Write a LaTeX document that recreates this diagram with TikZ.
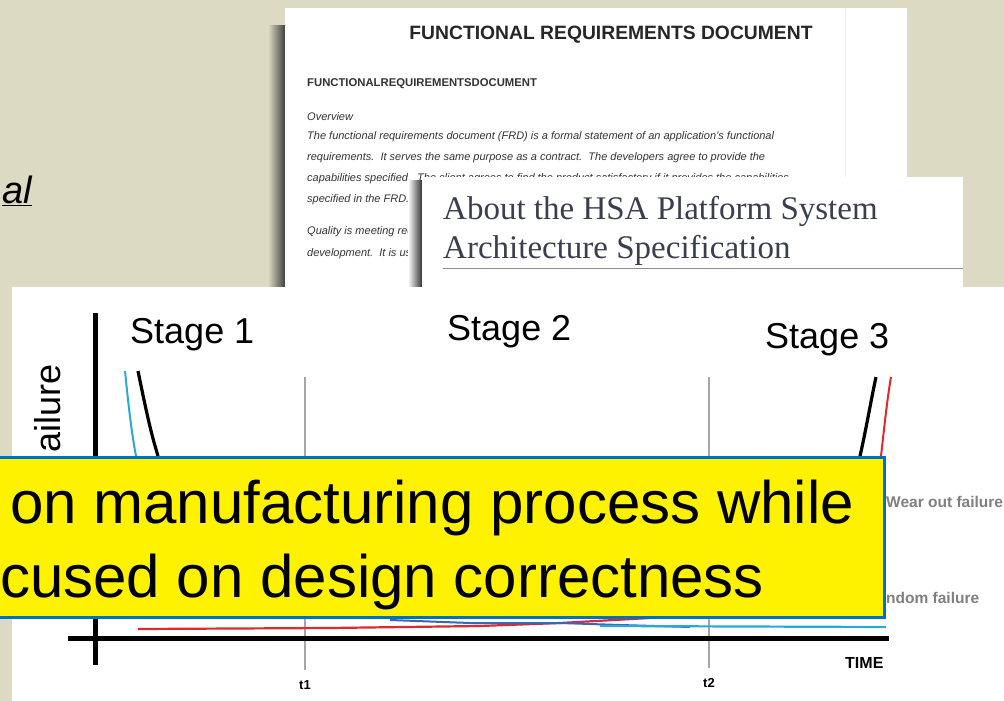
\documentclass[tikz,border=0pt]{standalone}
\usepackage{fontspec}
\setmainfont{Liberation Sans}
\newfontfamily\docserif{Liberation Serif}
\usepackage{tikz}
\usetikzlibrary{positioning}
\definecolor{slidebg}{HTML}{DCDAC3}
\definecolor{hsatext}{HTML}{3A3F4E}
\definecolor{calloutc}{HTML}{0070C0}
\definecolor{earlyc}{HTML}{2AA8D6}
\definecolor{wearc}{HTML}{E0282E}
\definecolor{randc}{HTML}{3F63B8}
\tikzset{
  txt/.style={inner sep=0pt,anchor=base west},
  doctext/.style={txt,font=\fontsize{11}{13}\selectfont\itshape,text=black!80},
  stagelbl/.style={txt,font=\fontsize{36}{40}\selectfont},
  notetext/.style={txt,font=\fontsize{60}{70}\selectfont},
  graylbl/.style={txt,font=\fontsize{15.5}{17}\selectfont\bfseries,text=black!50},
  ticklbl/.style={font=\fontsize{13}{15}\selectfont\bfseries,inner sep=0pt},
  axis/.style={line width=5pt,black},
  tline/.style={line width=1.3pt,black!35},
  callout/.style={draw=calloutc,line width=3pt,fill=yellow,inner sep=0pt}
}
\begin{document}
\begin{tikzpicture}[x=1pt,y=-1pt]
\useasboundingbox (0,0) rectangle (1004,701);
\fill[slidebg] (0,0) rectangle (1004,701);
\node[txt,anchor=base east,font=\fontsize{38}{40}\selectfont\itshape] (word) at (32,203) {\underline{al}};
\shade[left color=slidebg,right color=black!75] (268,26) rectangle (285,290);
\fill[white] (285,8) rectangle (907,290);
\draw[black!6,line width=1pt] (845,8) -- (845,177);
\node[txt,anchor=base,font=\fontsize{19.3}{22}\selectfont\bfseries,text=black!85] (frdtitle) at (611,40) {FUNCTIONAL REQUIREMENTS DOCUMENT};
\node[txt,font=\fontsize{11.3}{13}\selectfont\bfseries,text=black!80] (frdhead) at (307,87) {FUNCTIONALREQUIREMENTSDOCUMENT};
\node[doctext] (ov) at (307,120) {Overview};
\node[doctext] (l1) at (307,139) {The functional requirements document (FRD) is a formal statement of an application's functional};
\node[doctext] (l2) at (307,160) {requirements.\ \ It serves the same purpose as a contract.\ \ The developers agree to provide the};
\node[doctext] (l3) at (307,181) {capabilities specified.\ \ The client agrees to find the product satisfactory if it provides the capabilities};
\node[doctext] (l4) at (307,202) {specified in the FRD.};
\node[doctext] (l5) at (307,234) {Quality is meeting requ};
\node[doctext] (l6) at (307,256) {development.\ \ It is used};
\shade[left color=white,right color=black!80] (408,180) rectangle (422,290);
\fill[white] (422,177) rectangle (963,290);
\node[txt,font=\fontsize{33}{36}\selectfont\docserif,text=hsatext] (hsa1) at (443,219) {About the HSA Platform System};
\node[txt,font=\fontsize{33}{36}\selectfont\docserif,text=hsatext] (hsa2) at (443,258) {Architecture Specification};
\draw[black!45,line width=1pt] (443,268) -- (963,268);
\fill[white] (12,287) rectangle (1004,701);
\node[stagelbl] (s1) at (130,343) {Stage 1};
\node[stagelbl] (s2) at (447,340) {Stage 2};
\node[stagelbl] (s3) at (765,348) {Stage 3};
\node[txt,rotate=90,font=\fontsize{36}{40}\selectfont] (ylbl) at (60,453) {ailure};
\coordinate (t1top) at (305,377);
\coordinate (t1bot) at (305,670);
\coordinate (t2top) at (709,377);
\coordinate (t2bot) at (709,668);
\draw[tline] (t1top) -- (t1bot);
\draw[tline] (t2top) -- (t2bot);
\node[ticklbl,below=10pt of t1bot] (t1) {t1};
\node[ticklbl,below=10pt of t2bot] (t2) {t2};
\coordinate (ytop) at (95,313);
\coordinate (ybot) at (95,665);
\coordinate (xl) at (68,638);
\coordinate (xr) at (889,638);
\draw[axis] (ytop) -- (ybot);
\draw[axis] (xl) -- (xr);
\node[txt,font=\fontsize{16}{18}\selectfont\bfseries] (time) at (845,668) {TIME};
\draw[wearc,line width=2.2pt] (138,629) -- (330,628) -- (480,626) -- (560,623) -- (650,618);
\draw[randc,line width=2pt] (390,620) -- (470,623) -- (560,623) -- (620,625) -- (690,627);
\draw[earlyc,line width=2.2pt] (600,626) -- (886,627);
\draw[earlyc,line width=2pt] (125,371) .. controls (128,400) and (131,430) .. (136,456);
\draw[black,line width=3.2pt] (138,371) .. controls (145,405) and (150,430) .. (158,456);
\draw[black,line width=3.2pt] (860,456) .. controls (866,430) and (871,400) .. (876,377);
\draw[wearc,line width=2pt] (881,456) .. controls (884,430) and (887,400) .. (891,377);
\node[graylbl] (wear) at (886,507) {Wear out failure};
\node[graylbl] (rand) at (886,603) {ndom failure};
\node[callout,minimum width=904pt,minimum height=160pt] (note) at (432,537) {};
\node[notetext] (n1) at (10,523) {on manufacturing process while};
\node[notetext] (n2) at (0,597) {cused on design correctness};
\end{tikzpicture}
\end{document}
